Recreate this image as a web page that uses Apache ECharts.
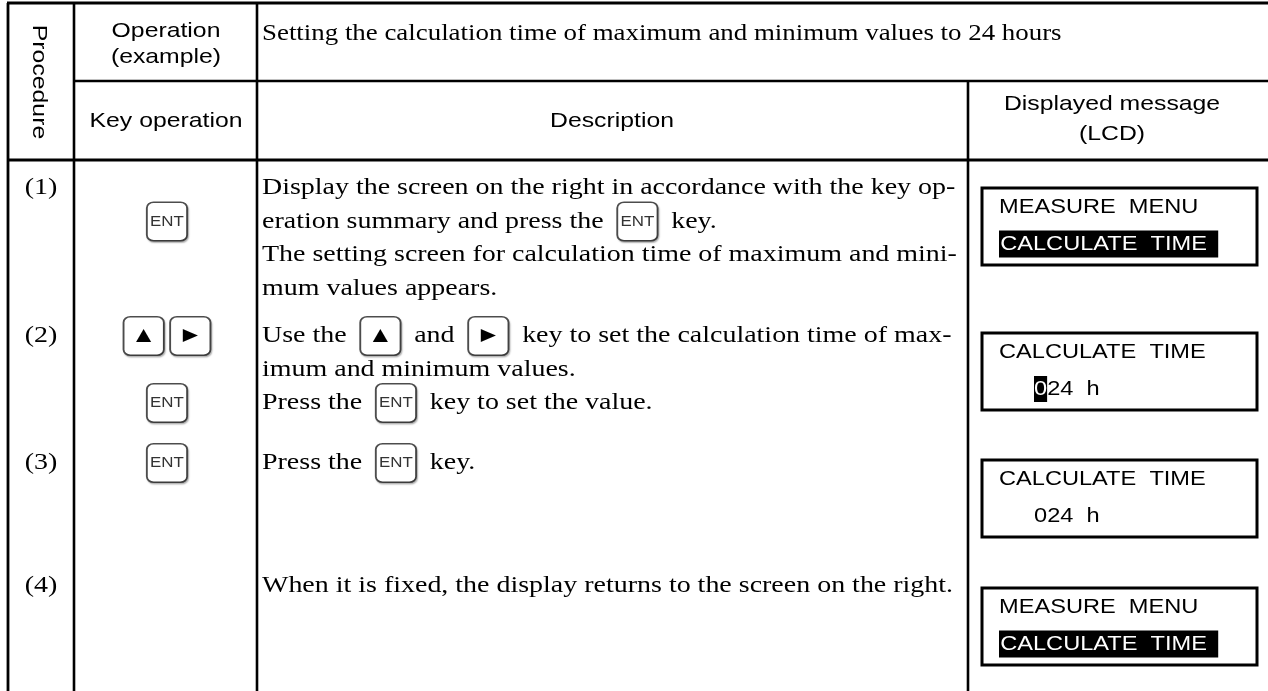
<!DOCTYPE html>
<html><head><meta charset="utf-8">
<script src="https://cdn.jsdelivr.net/npm/echarts@6/dist/echarts.min.js"></script>
<style>html,body{margin:0;padding:0;background:#fff}#c{width:1268px;height:691px}</style>
</head><body><div id="c"></div>
<script>
// ---------- content ----------
const sideHeader = 'Procedure';
const topHeader = ['Operation', '(example)'];
const titleText = 'Setting the calculation time of maximum and minimum values to 24 hours';
const colHeaders = ['Key operation', 'Description'];
const lcdHeader = ['Displayed message', '(LCD)'];
const stepLabels = ['(1)', '(2)', '(3)', '(4)'];
// keys shown in the key-operation column, per description line
const stepKeys = [
  [[], ['ENT']],
  [['UP', 'RIGHT'], [], ['ENT']],
  [['ENT']],
  []
];
const stepDescriptions = [
  ['Display the screen on the right in accordance with the key op-',
   'eration summary and press the [ENT] key.',
   'The setting screen for calculation time of maximum and mini-',
   'mum values appears.'],
  ['Use the [UP] and [RIGHT] key to set the calculation time of max-',
   'imum and minimum values.',
   'Press the [ENT] key to set the value.'],
  ['Press the [ENT] key.'],
  ['When it is fixed, the display returns to the screen on the right.']
];
const lcdLine1 = ['MEASURE  MENU', 'CALCULATE  TIME', 'CALCULATE  TIME', 'MEASURE  MENU'];
const lcdLine2 = ['CALCULATE  TIME ', '024  h', '024  h', 'CALCULATE  TIME '];
const lcdCursor = [[0, 16], [0, 1], null, [0, 16]];

// ---------- layout / style ----------
const L = {
  W: 1268, H: 691,
  left: 8, colKey: 74, colDesc: 257, colLcd: 968,
  top: 3, hdr1: 81, hdr2: 160,
  stepTop: [188, 336, 463, 586],
  lineGap: 33.5,
  labelX: 41, keyX: 167, descX: 262,
  lcdTop: [188, 333, 460, 588],
  lcdX: 982, lcdW: 275, lcdH: 77,
  lcdTextX: 999, lcdIndent: [0, 35, 35, 0],
  lcdL1: 19, lcdL2: 56
};
const SANS = '"Liberation Sans", Arial, sans-serif';
const SERIF = '"Liberation Serif", "Times New Roman", serif';
const SX = 1.18;      // horizontal stretch of sans text
const SXS = 1.165;    // horizontal stretch of serif text
const SXT = 1.12;     // title stretch
const KEYDEF = {
  ENT: {s: 'ent', g: 'ENT'},
  UP: {s: 'arr', g: '▲'},
  RIGHT: {s: 'arr', g: '▶'}
};
const keyBox = {
  width: 33, height: 37, align: 'center', verticalAlign: 'middle',
  backgroundColor: '#fff', borderColor: '#4d4d4d', borderWidth: 1.6, borderRadius: 5,
  shadowColor: 'rgba(0,0,0,0.28)', shadowOffsetX: 1, shadowOffsetY: 1.5, shadowBlur: 1.5
};
const RICH = {
  ent: Object.assign({}, keyBox, {fontFamily: SANS, fontSize: 14.5, fill: '#333'}),
  arr: Object.assign({}, keyBox, {fontFamily: '"DejaVu Sans", sans-serif', fontSize: 17, fill: '#000'}),
  g: {width: 6.5, fontSize: 24},
  kg: {width: 7, fontSize: 24}
};
const LCDRICH = {
  hl: {backgroundColor: '#000', fill: '#fff', padding: [4, 4, 3, 1], fontFamily: SANS, fontSize: 20},
  hc: {backgroundColor: '#000', fill: '#fff', padding: [3, 0, 3, 0], fontFamily: SANS, fontSize: 20}
};

function toRich(line) {
  return line.replace(/\[(\w+)\]/g, (m, k) => `{g| }{${KEYDEF[k].s}|${KEYDEF[k].g}}{g| }`);
}
function txt(p, text, font, opt) {
  return Object.assign({type: 'text', x: p[0], y: p[1],
    style: {text: text, font: font, fill: '#000', align: 'center', verticalAlign: 'middle'}}, opt || {});
}
function ln(api, x1, y1, x2, y2, w) {
  const a = api.coord([x1, y1]), b = api.coord([x2, y2]);
  return {type: 'line', shape: {x1: a[0], y1: a[1], x2: b[0], y2: b[1]}, style: {stroke: '#000', lineWidth: w}};
}

function renderFrame(params, api) {
  const c = [];
  c.push(ln(api, L.left - 1, L.top, L.W, L.top, 3));
  c.push(ln(api, L.left, L.top, L.left, L.H, 2.8));
  c.push(ln(api, L.colKey, L.top, L.colKey, L.H, 2.6));
  c.push(ln(api, L.colDesc, L.top, L.colDesc, L.H, 2.6));
  c.push(ln(api, L.colLcd, L.hdr1, L.colLcd, L.H, 2.6));
  c.push(ln(api, L.colKey, L.hdr1, L.W, L.hdr1, 2.6));
  c.push(ln(api, L.left, L.hdr2, L.W, L.hdr2, 2.9));
  const f = '21px ' + SANS;
  c.push(txt(api.coord([39, 82]), sideHeader, f, {rotation: -Math.PI / 2, scaleX: SX}));
  c.push(txt(api.coord([166, 31]), topHeader[0], f, {scaleX: SX}));
  c.push(txt(api.coord([166, 57]), topHeader[1], f, {scaleX: SX}));
  const t = txt(api.coord([262, 34]), titleText, '24px ' + SERIF, {scaleX: SXT});
  t.style.align = 'left';
  c.push(t);
  c.push(txt(api.coord([166, 121]), colHeaders[0], f, {scaleX: SX}));
  c.push(txt(api.coord([612, 121]), colHeaders[1], f, {scaleX: SX}));
  c.push(txt(api.coord([1112, 104]), lcdHeader[0], f, {scaleX: SX}));
  c.push(txt(api.coord([1112, 134]), lcdHeader[1], f, {scaleX: SX}));
  return {type: 'group', children: c};
}

function renderStep(params, api) {
  const i = api.value(0), top = api.value(1);
  const c = [];
  c.push(txt(api.coord([L.labelX, top]), stepLabels[i], '24px ' + SERIF, {scaleX: SXS}));
  stepDescriptions[i].forEach((line, j) => {
    const e = txt(api.coord([L.descX, top + j * L.lineGap]), toRich(line), '24px ' + SERIF, {scaleX: SXS});
    e.style.align = 'left';
    e.style.rich = RICH;
    c.push(e);
  });
  stepKeys[i].forEach((keys, j) => {
    if (!keys.length) return;
    const s = keys.map(k => `{${KEYDEF[k].s}|${KEYDEF[k].g}}`).join('{kg| }');
    const e = txt(api.coord([L.keyX, top + j * L.lineGap]), s, '24px ' + SERIF, {scaleX: SXS});
    e.style.rich = RICH;
    c.push(e);
  });
  return {type: 'group', children: c};
}

function renderLcd(params, api) {
  const i = api.value(0), top = api.value(1);
  const a = api.coord([L.lcdX, top]), b = api.coord([L.lcdX + L.lcdW, top + L.lcdH]);
  const c = [];
  c.push({type: 'rect', shape: {x: a[0], y: a[1], width: b[0] - a[0], height: b[1] - a[1]},
    style: {fill: 'none', stroke: '#000', lineWidth: 3}});
  const f = '20px ' + SANS;
  const t1 = txt(api.coord([L.lcdTextX, top + L.lcdL1]), lcdLine1[i], f, {scaleX: SX});
  t1.style.align = 'left';
  c.push(t1);
  let s = lcdLine2[i];
  const cur = lcdCursor[i];
  if (cur) {
    const st = (cur[1] - cur[0]) > 1 ? 'hl' : 'hc';
    s = s.slice(0, cur[0]) + '{' + st + '|' + s.slice(cur[0], cur[1]) + '}' + s.slice(cur[1]);
  }
  const t2 = txt(api.coord([L.lcdTextX + L.lcdIndent[i], top + L.lcdL2]), s, f, {scaleX: SX});
  t2.style.align = 'left';
  t2.style.rich = LCDRICH;
  c.push(t2);
  return {type: 'group', children: c};
}

const chart = echarts.init(document.getElementById('c'), null, {renderer: 'canvas'});
chart.setOption({
  animation: false,
  backgroundColor: '#fff',
  grid: {left: 0, right: 0, top: 0, bottom: 0},
  xAxis: {type: 'value', min: 0, max: L.W, show: false},
  yAxis: {type: 'value', min: 0, max: L.H, inverse: true, show: false},
  series: [
    {type: 'custom', name: 'frame', coordinateSystem: 'cartesian2d', silent: true,
     data: [[0, 0]], renderItem: renderFrame},
    {type: 'custom', name: 'steps', coordinateSystem: 'cartesian2d', silent: true,
     data: stepLabels.map((s, i) => [i, L.stepTop[i]]), renderItem: renderStep},
    {type: 'custom', name: 'lcd', coordinateSystem: 'cartesian2d', silent: true,
     data: lcdLine1.map((s, i) => [i, L.lcdTop[i]]), renderItem: renderLcd}
  ]
});
</script></body></html>
